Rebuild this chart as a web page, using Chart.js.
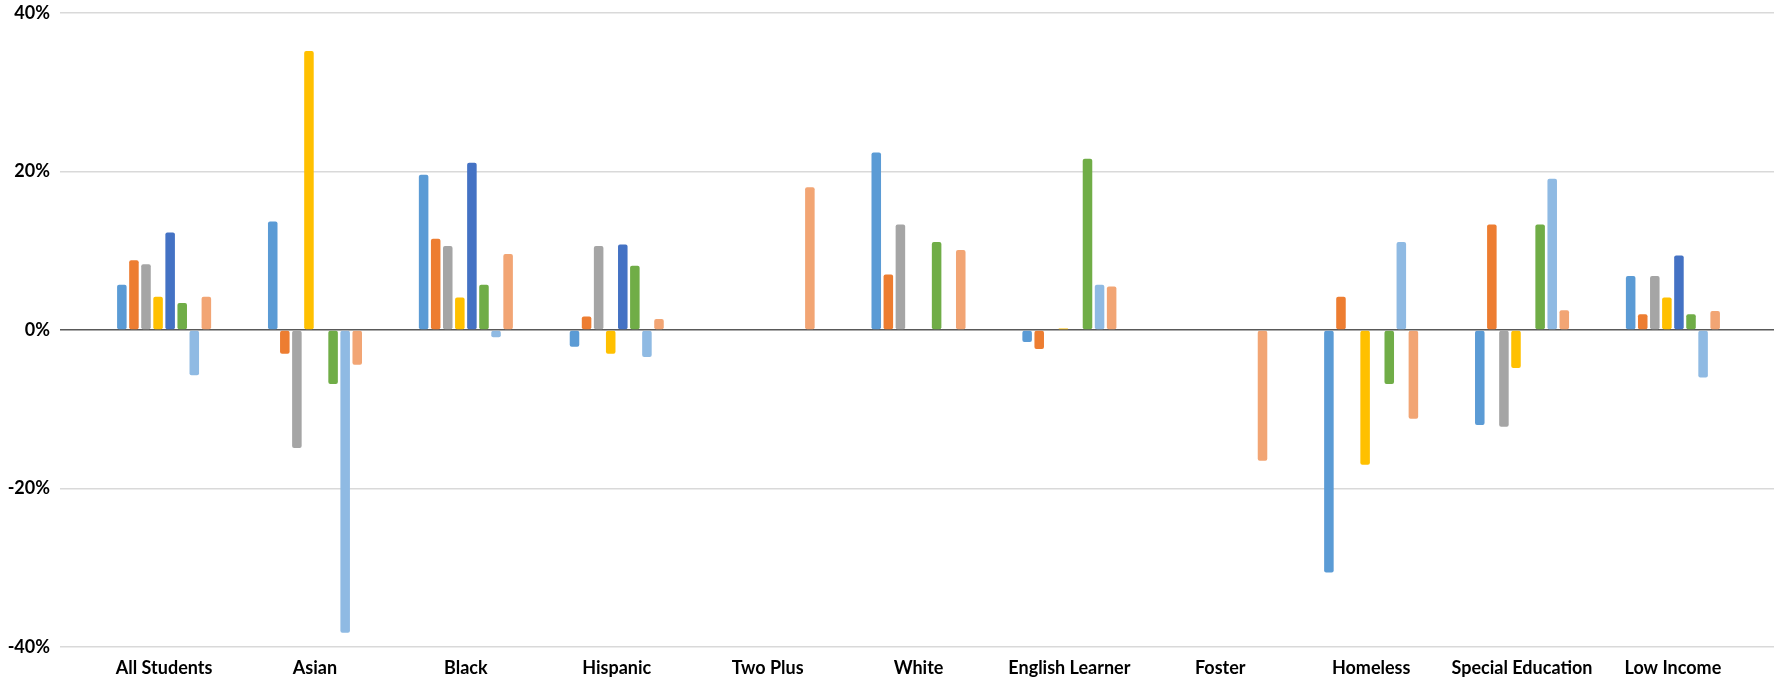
<!DOCTYPE html>
<html>
<head>
<meta charset="utf-8">
<script src="https://cdn.jsdelivr.net/npm/chart.js@4"></script>
<style>
  html, body { margin: 0; padding: 0; background: #fff; }
  #wrap { width: 1791px; height: 681px; }
</style>
</head>
<body>
<div id="wrap"><canvas id="gapChart"></canvas></div>
<script>
// Categories along the x axis
const categories = ["All Students", "Asian", "Black", "Hispanic", "Two Plus", "White",
    "English Learner", "Foster", "Homeless", "Special Education", "Low Income"];

// One array per series (values in %), null where no bar is drawn
const series1 = [5.7, 13.7, 19.6, -2.1, null, 22.4, -1.5, null, -30.6, -12.0, 6.8];
const series2 = [8.8, -3.0, 11.5, 1.7, null, 7.0, -2.4, null, 4.2, 13.3, 2.0];
const series3 = [8.3, -14.9, 10.6, 10.6, null, 13.3, null, null, null, -12.2, 6.8];
const series4 = [4.2, 35.2, 4.1, -3.0, null, null, 0.2, null, -17.0, -4.8, 4.1];
const series5 = [12.3, null, 21.1, 10.8, null, null, null, null, null, null, 9.4];
const series6 = [3.4, -6.8, 5.7, 8.1, null, 11.1, 21.6, null, -6.8, 13.3, 2.0];
const series7 = [-5.7, -38.2, -0.9, -3.4, null, null, 5.7, null, 11.1, 19.1, -6.0];
const series8 = [4.2, -4.4, 9.6, 1.4, 18.0, 10.1, 5.5, -16.5, -11.2, 2.5, 2.4];

const colors = ["#5B9BD5", "#ED7D31", "#A5A5A5", "#FFC000", "#4472C4", "#70AD47", "#8FBAE3", "#F2A574"];

// y axis ticks
const yTicks = [-40, -20, 0, 20, 40];

// Category scale with a little extra room on both ends (plot area is wider than the groups)
class PaddedCategory extends Chart.CategoryScale {
    buildTicks() {
        const ticks = super.buildTicks();
        this._startValue -= 0.19;
        this._valueRange += 0.36;
        return ticks;
    }
}
PaddedCategory.id = "paddedCategory";
PaddedCategory.defaults = Chart.CategoryScale.defaults;
Chart.register(PaddedCategory);

const allSeries = [series1, series2, series3, series4, series5, series6, series7, series8];

const ctx = document.getElementById("gapChart").getContext("2d");
new Chart(ctx, {
    type: "bar",
    data: {
        labels: categories,
        datasets: allSeries.map((values, i) => ({
            label: "Series " + (i + 1),
            data: values,
            backgroundColor: colors[i],
            borderRadius: 2,
            borderSkipped: false,
            categoryPercentage: 0.64,
            barPercentage: 0.79
        }))
    },
    options: {
        responsive: true,
        maintainAspectRatio: false,
        animation: false,
        layout: { padding: { top: 13, right: 17, bottom: 0, left: 0 } },
        plugins: {
            legend: { display: false },
            tooltip: { enabled: false }
        },
        scales: {
            x: {
                type: "paddedCategory",
                offset: true,
                grid: { display: false },
                border: { display: false },
                ticks: {
                    color: "#000",
                    font: { family: "Lato", weight: "bold", size: 18 },
                    maxRotation: 0,
                    autoSkip: false,
                    padding: 2
                },
                afterFit: scale => { scale.height = 34; }
            },
            y: {
                min: -40,
                max: 40,
                afterBuildTicks: scale => { scale.ticks = yTicks.map(v => ({ value: v })); },
                grid: {
                    drawTicks: false,
                    lineWidth: 1.5,
                    color: c => c.tick && c.tick.value === 0 ? "#595959" : "#d9d9d9"
                },
                border: { display: false },
                ticks: {
                    color: "#000",
                    font: { family: "Lato", weight: "bold", size: 18 },
                    padding: 10,
                    callback: v => v + "%"
                },
                afterFit: scale => {
                    scale.width = 60;
                    scale.paddingTop = 0;
                    scale.paddingBottom = 0;
                }
            }
        }
    }
});
</script>
</body>
</html>
